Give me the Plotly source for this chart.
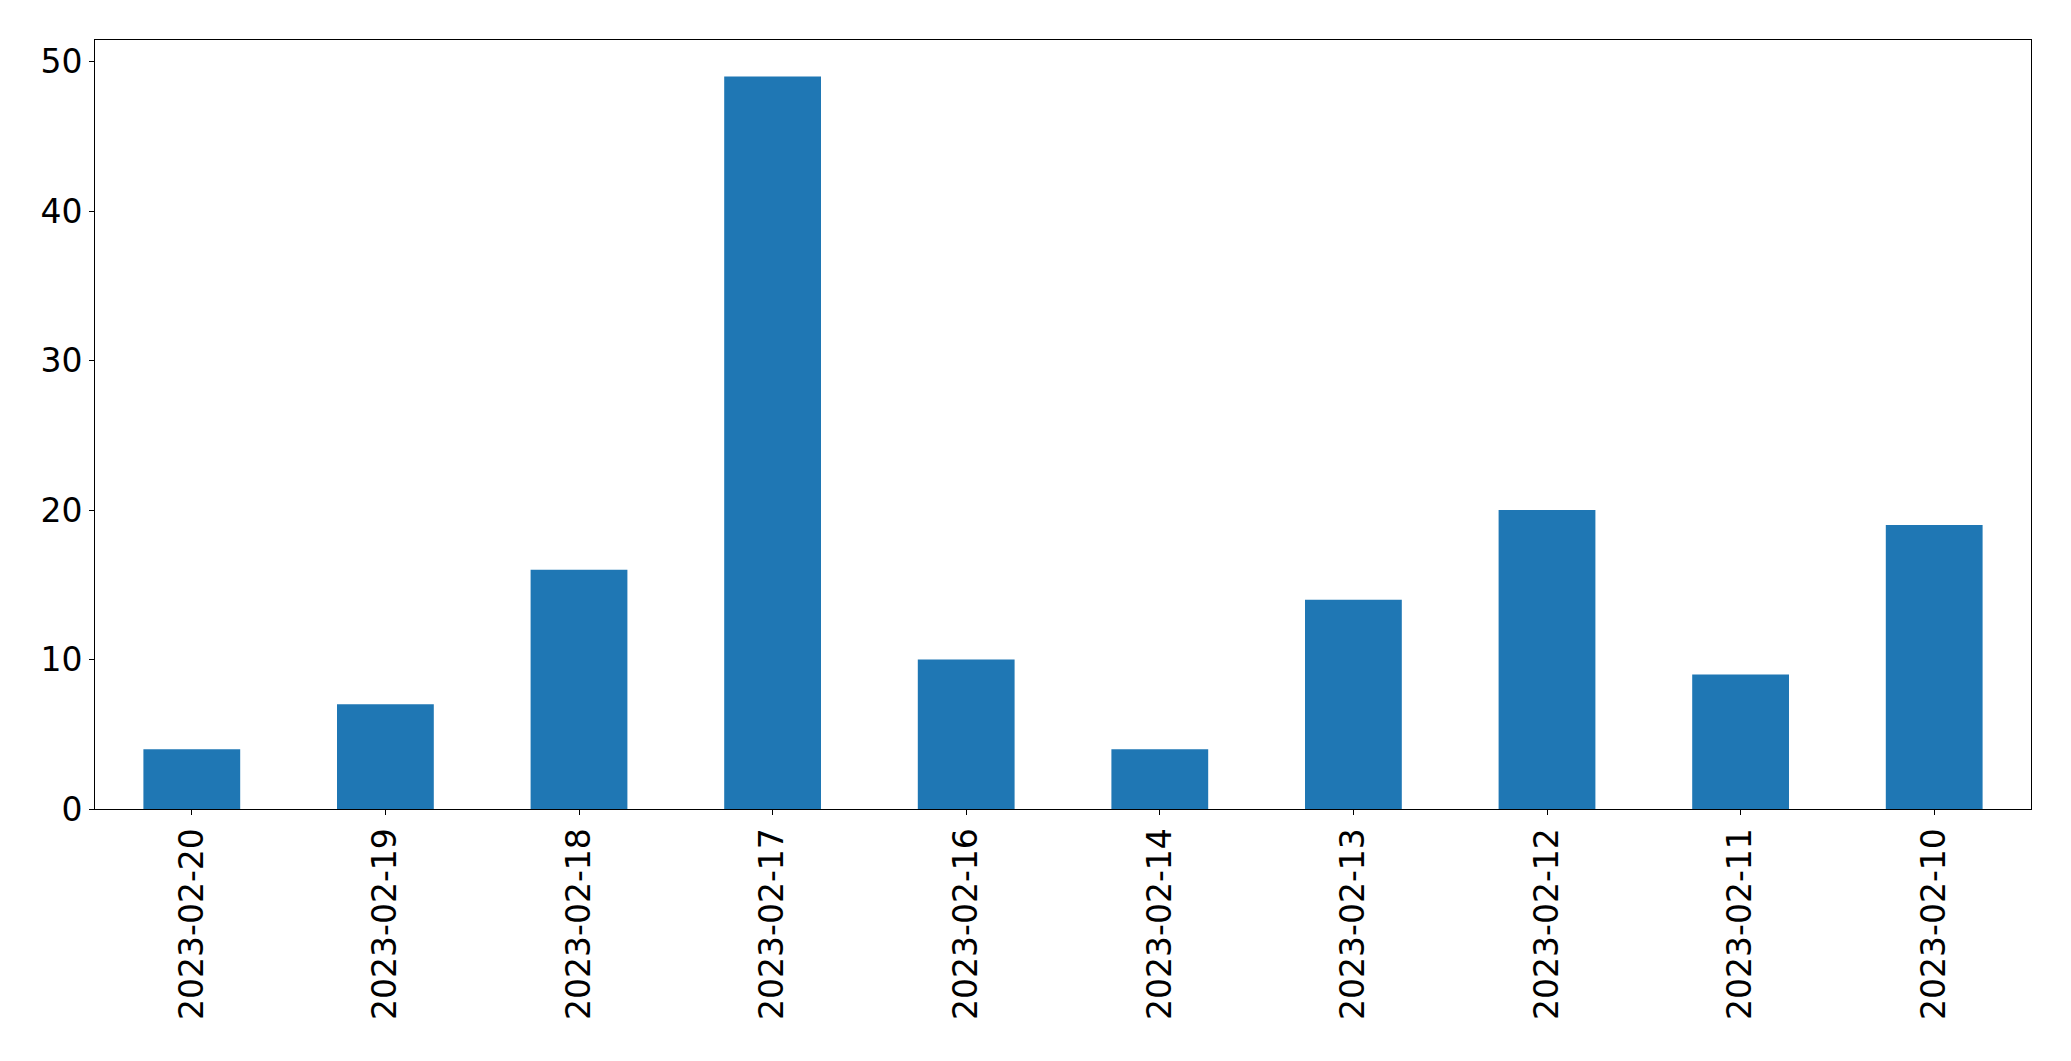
import plotly.graph_objects as go

dates = ["2023-02-20", "2023-02-19", "2023-02-18", "2023-02-17", "2023-02-16",
         "2023-02-14", "2023-02-13", "2023-02-12", "2023-02-11", "2023-02-10"]
counts = [4, 7, 16, 49, 10, 4, 14, 20, 9, 19]
y_ticks = [0, 10, 20, 30, 40, 50]

fig = go.Figure(go.Bar(x=dates, y=counts, marker=dict(color="#1f77b4", line=dict(width=0))))

fig.update_layout(
    width=2071, height=1061,
    margin=dict(l=94.5, r=39.5, t=39.5, b=252),
    paper_bgcolor="white", plot_bgcolor="white",
    bargap=0.5, showlegend=False,
    font=dict(family="DejaVu Sans", size=33, color="black"),
)
fig.update_xaxes(
    type="category", range=[-0.5, len(dates) - 0.5],
    showline=True, linecolor="black", linewidth=1, mirror=True,
    ticks="outside", ticklen=5, tickwidth=1, tickcolor="black",
    tickangle=-90, showgrid=False, zeroline=False, ticklabelstandoff=0,
    automargin=False,
)
fig.update_yaxes(
    range=[0, max(counts) * 1.05], tickvals=y_ticks,
    showline=True, linecolor="black", linewidth=1, mirror=True,
    ticks="outside", ticklen=5, tickwidth=1, tickcolor="black",
    showgrid=False, zeroline=False, ticklabelstandoff=0,
    automargin=False,
)

fig.write_html(
    "out.html",
    config={"displayModeBar": False},
    post_script="document.body.style.margin='0';document.body.style.overflow='hidden';",
)
